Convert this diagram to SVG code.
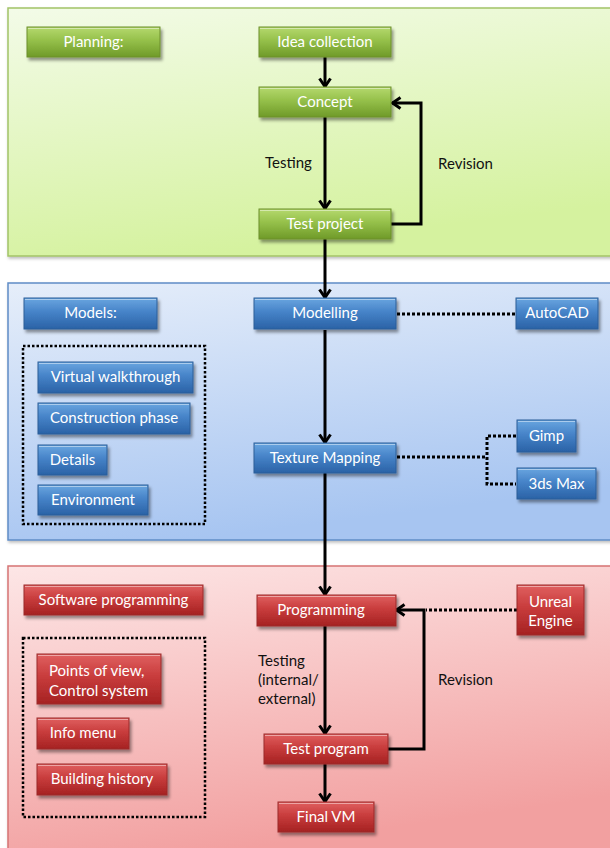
<svg xmlns="http://www.w3.org/2000/svg" width="610" height="848" viewBox="0 0 610 848">
<style>
text{font-family:Lato,"Open Sans","Noto Sans",sans-serif;font-size:15px}
.bt{fill:#ffffff;text-anchor:middle}
.bl{fill:#ffffff}
.lb{fill:#111111}
.g{fill:url(#gG);stroke:#6d8f2c;stroke-width:1}
.b{fill:url(#gB);stroke:#2d5f98;stroke-width:1}
.r{fill:url(#gR);stroke:#9b2b2b;stroke-width:1}
.hl{fill:none;stroke:#ffffff;stroke-opacity:0.45;stroke-width:1}
.ln{fill:none;stroke:#000;stroke-width:3}
.dt{fill:none;stroke:#000;stroke-width:3;stroke-dasharray:3 2}
.dr{fill:none;stroke:#000;stroke-width:2.5;stroke-dasharray:2.5 2}
</style>
<defs>
<linearGradient id="pG" x1="0" y1="0" x2="0.3" y2="1"><stop offset="0" stop-color="#f3fbe8"/><stop offset="1" stop-color="#d5f29f"/></linearGradient>
<linearGradient id="pB" x1="0" y1="0" x2="0.3" y2="1"><stop offset="0" stop-color="#e6eefa"/><stop offset="1" stop-color="#a7c5f1"/></linearGradient>
<linearGradient id="pR" x1="0" y1="0" x2="0.3" y2="1"><stop offset="0" stop-color="#fde6e6"/><stop offset="1" stop-color="#f2a0a0"/></linearGradient>
<linearGradient id="gG" x1="0" y1="0" x2="0" y2="1"><stop offset="0" stop-color="#b5d96e"/><stop offset="0.45" stop-color="#95c04a"/><stop offset="1" stop-color="#6f9a28"/></linearGradient>
<linearGradient id="gB" x1="0" y1="0" x2="0" y2="1"><stop offset="0" stop-color="#6aa6e0"/><stop offset="0.45" stop-color="#4683c8"/><stop offset="1" stop-color="#2a62a6"/></linearGradient>
<linearGradient id="gR" x1="0" y1="0" x2="0" y2="1"><stop offset="0" stop-color="#e06060"/><stop offset="0.45" stop-color="#c83c3c"/><stop offset="1" stop-color="#a52222"/></linearGradient>
<filter id="sh" x="-10%" y="-20%" width="130%" height="160%"><feDropShadow dx="2" dy="3" stdDeviation="1.5" flood-color="#000" flood-opacity="0.4"/></filter>
<filter id="psh" x="-5%" y="-5%" width="110%" height="110%"><feDropShadow dx="1" dy="2" stdDeviation="1.5" flood-color="#000" flood-opacity="0.25"/></filter>
<marker id="arr" viewBox="0 0 12 14" refX="10.5" refY="7" markerWidth="12" markerHeight="14" markerUnits="userSpaceOnUse" orient="auto"><path d="M2,1.5 L10,7 L2,12.5" fill="none" stroke="#000" stroke-width="3"/></marker>
</defs>

<g id="panels">
<rect x="8" y="8" width="610" height="248" fill="url(#pG)" stroke="#a3c367" stroke-width="1.5" filter="url(#psh)"/>
<rect x="8" y="283" width="610" height="257" fill="url(#pB)" stroke="#5f8cc6" stroke-width="1.5" filter="url(#psh)"/>
<rect x="8" y="566" width="610" height="290" fill="url(#pR)" stroke="#d67474" stroke-width="1.5" filter="url(#psh)"/>
</g>

<g id="connectors">
<path class="ln" d="M325,57 V87" marker-end="url(#arr)"/>
<path class="ln" d="M325,117 V209" marker-end="url(#arr)"/>
<path class="ln" d="M391,224 H421 V103 H392" marker-end="url(#arr)"/>
<path class="ln" d="M325,239 V298" marker-end="url(#arr)"/>
<path class="ln" d="M325,330 V443" marker-end="url(#arr)"/>
<path class="ln" d="M325,473 V595" marker-end="url(#arr)"/>
<path class="ln" d="M325,626 V734" marker-end="url(#arr)"/>
<path class="ln" d="M388,749 H424 V610 H396" marker-end="url(#arr)"/>
<path class="ln" d="M325,764 V802" marker-end="url(#arr)"/>
<path class="dt" d="M397,314 H516"/>
<path class="dt" d="M397,457 H487"/>
<path class="dt" d="M516,436 H487 V484 H516"/>
<path class="dt" d="M517,610 H426"/>
<rect class="dr" x="23" y="346" width="182" height="178"/>
<rect class="dr" x="23" y="638" width="182" height="179"/>
<text class="lb" x="265" y="168">Testing</text>
<text class="lb" x="438" y="169">Revision</text>
<text class="lb" x="258" y="666">Testing</text>
<text class="lb" x="258" y="685">(internal/</text>
<text class="lb" x="258" y="704">external)</text>
<text class="lb" x="438" y="685">Revision</text>
</g>

<g id="planning"><rect class="g" x="27" y="27" width="133" height="30" filter="url(#sh)"/><path class="hl" d="M28,28.5 H159"/><text class="bt" x="93.5" y="47">Planning:</text></g>
<g id="idea"><rect class="g" x="259" y="27" width="132" height="30" filter="url(#sh)"/><path class="hl" d="M260,28.5 H390"/><text class="bt" x="325" y="47">Idea collection</text></g>
<g id="concept"><rect class="g" x="259" y="87" width="132" height="30" filter="url(#sh)"/><path class="hl" d="M260,88.5 H390"/><text class="bt" x="325" y="107">Concept</text></g>
<g id="testproject"><rect class="g" x="259" y="209" width="132" height="30" filter="url(#sh)"/><path class="hl" d="M260,210.5 H390"/><text class="bt" x="325" y="229">Test project</text></g>

<g id="models"><rect class="b" x="24" y="298" width="133" height="31" filter="url(#sh)"/><path class="hl" d="M25,299.5 H156"/><text class="bt" x="90.5" y="318">Models:</text></g>
<g id="modelling"><rect class="b" x="254" y="298" width="142" height="31" filter="url(#sh)"/><path class="hl" d="M255,299.5 H395"/><text class="bt" x="325" y="318">Modelling</text></g>
<g id="autocad"><rect class="b" x="516" y="298" width="82" height="31" filter="url(#sh)"/><path class="hl" d="M517,299.5 H597"/><text class="bt" x="557" y="318">AutoCAD</text></g>
<g id="virtual"><rect class="b" x="38" y="362" width="155" height="31" filter="url(#sh)"/><path class="hl" d="M39,363.5 H192"/><text class="bt" x="115.5" y="382">Virtual walkthrough</text></g>
<g id="construction"><rect class="b" x="38" y="403" width="152" height="31" filter="url(#sh)"/><path class="hl" d="M39,404.5 H189"/><text class="bt" x="114" y="423">Construction phase</text></g>
<g id="details"><rect class="b" x="38" y="445" width="69" height="30" filter="url(#sh)"/><path class="hl" d="M39,446.5 H106"/><text class="bt" x="72.5" y="465">Details</text></g>
<g id="environment"><rect class="b" x="38" y="485" width="110" height="30" filter="url(#sh)"/><path class="hl" d="M39,486.5 H147"/><text class="bt" x="93" y="505">Environment</text></g>
<g id="texture"><rect class="b" x="254" y="443" width="142" height="30" filter="url(#sh)"/><path class="hl" d="M255,444.5 H395"/><text class="bt" x="325" y="463">Texture Mapping</text></g>
<g id="gimp"><rect class="b" x="517" y="420" width="59" height="32" filter="url(#sh)"/><path class="hl" d="M518,421.5 H575"/><text class="bt" x="546.5" y="441">Gimp</text></g>
<g id="max"><rect class="b" x="517" y="468" width="79" height="31" filter="url(#sh)"/><path class="hl" d="M518,469.5 H595"/><text class="bt" x="556.5" y="489">3ds Max</text></g>

<g id="software"><rect class="r" x="24" y="585" width="179" height="30" filter="url(#sh)"/><path class="hl" d="M25,586.5 H202"/><text class="bt" x="113.5" y="605">Software programming</text></g>
<g id="programming"><rect class="r" x="257" y="595" width="139" height="31" filter="url(#sh)"/><path class="hl" d="M258,596.5 H395"/><text class="bt" x="321" y="615">Programming</text></g>
<g id="unreal"><rect class="r" x="517" y="585" width="67" height="50" filter="url(#sh)"/><path class="hl" d="M518,586.5 H583"/><text class="bt" x="550.5" y="607">Unreal</text><text class="bt" x="550.5" y="626">Engine</text></g>
<g id="pov"><rect class="r" x="37" y="654" width="124" height="50" filter="url(#sh)"/><path class="hl" d="M38,655.5 H160"/><text class="bl" x="49" y="676">Points of view,</text><text class="bl" x="49" y="696">Control system</text></g>
<g id="info"><rect class="r" x="37" y="718" width="92" height="31" filter="url(#sh)"/><path class="hl" d="M38,719.5 H128"/><text class="bt" x="83" y="738">Info menu</text></g>
<g id="history"><rect class="r" x="37" y="764" width="130" height="31" filter="url(#sh)"/><path class="hl" d="M38,765.5 H166"/><text class="bt" x="102" y="784">Building history</text></g>
<g id="testprogram"><rect class="r" x="264" y="734" width="124" height="30" filter="url(#sh)"/><path class="hl" d="M265,735.5 H387"/><text class="bt" x="326" y="754">Test program</text></g>
<g id="final"><rect class="r" x="278" y="802" width="96" height="30" filter="url(#sh)"/><path class="hl" d="M279,803.5 H373"/><text class="bt" x="326" y="822">Final VM</text></g>
</svg>
